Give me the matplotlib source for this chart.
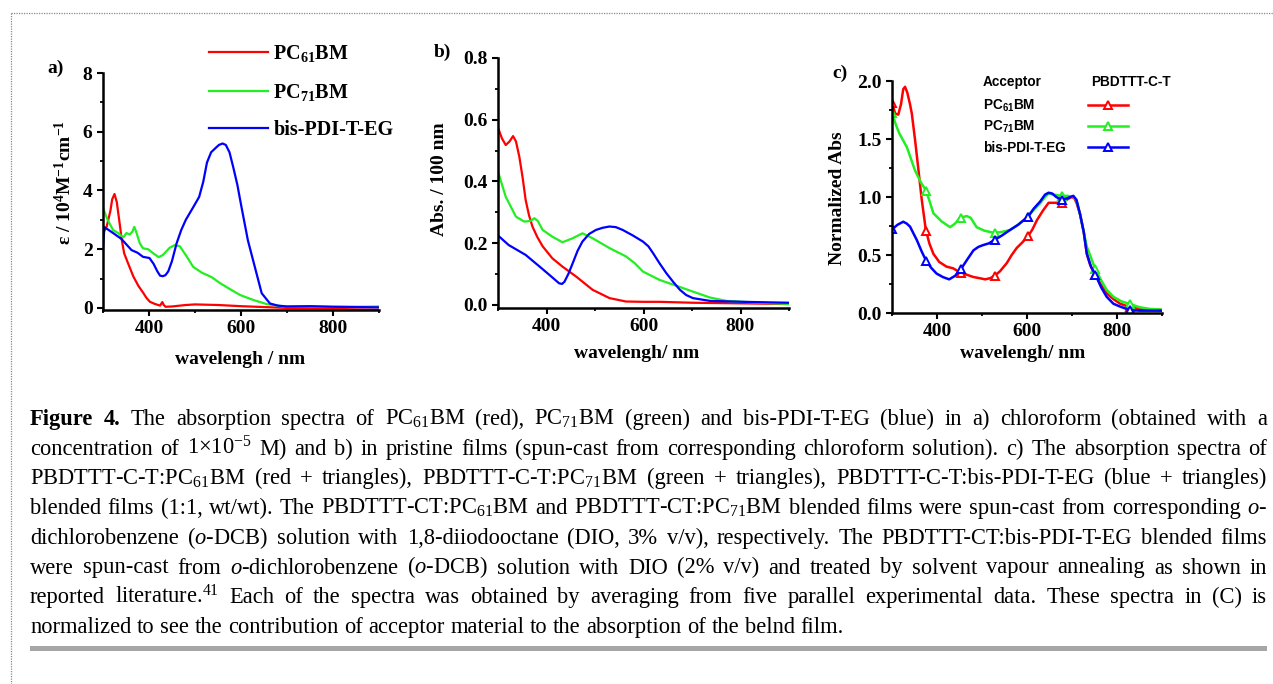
import numpy as np
import matplotlib
matplotlib.use("Agg")
import matplotlib.pyplot as plt
from matplotlib.ticker import MultipleLocator, FormatStrFormatter
from matplotlib.lines import Line2D
from matplotlib.patches import Rectangle

plt.rcParams['font.family'] = ['Liberation Serif', 'DejaVu Serif']
plt.rcParams['mathtext.fontset'] = 'custom'
plt.rcParams['mathtext.rm'] = 'Liberation Serif'
plt.rcParams['mathtext.it'] = 'Liberation Serif:italic'
plt.rcParams['mathtext.bf'] = 'Liberation Serif:bold'
plt.rcParams['mathtext.sf'] = 'Liberation Sans:bold'

# ---------------- data ----------------
series_names = ["PC$_{\\mathbf{61}}$BM", "PC$_{\\mathbf{71}}$BM", "bis-PDI-T-EG"]
series_names_c = ["PC$_{\\mathsf{61}}$BM", "PC$_{\\mathsf{71}}$BM", "bis-PDI-T-EG"]
colors = ["#ff0000", "#22ee22", "#0000ff"]

# a) chloroform solution, epsilon / 1e4 M^-1 cm^-1
a_pc61_nm = [300, 308, 316, 320, 325, 330, 336, 341, 346, 355, 366, 377, 388, 395, 402, 412, 424, 429,
             432, 436, 450, 480, 500, 550, 600, 650, 700, 750, 800, 850, 900]
a_pc61_eps = [2.55, 2.77, 3.3, 3.7, 3.88, 3.6, 2.9, 2.3, 1.86, 1.5, 1.07, 0.75, 0.5, 0.33, 0.21, 0.14, 0.08,
              0.2, 0.1, 0.04, 0.05, 0.1, 0.12, 0.1, 0.06, 0.03, 0.0, -0.01, -0.03, -0.05, -0.06]
a_pc71_nm = [300, 310, 322, 333, 344, 351, 358, 364, 368, 372, 380, 387, 398, 410, 421, 430, 445, 456,
             467, 480, 496, 515, 536, 554, 575, 598, 627, 656, 692, 750, 800, 850, 900]
a_pc71_eps = [3.4, 3.0, 2.65, 2.55, 2.4, 2.55, 2.5, 2.6, 2.76, 2.6, 2.2, 2.03, 2.0, 1.85, 1.73, 1.8, 2.05,
              2.14, 2.1, 1.8, 1.4, 1.2, 1.05, 0.85, 0.65, 0.44, 0.27, 0.13, 0.05, 0.05, 0.04, 0.04, 0.05]
a_pdi_nm = [300, 303, 308, 322, 340, 362, 375, 387, 401, 410, 418, 424, 430, 436, 442, 450, 460, 470, 480,
            495, 509, 518, 526, 535, 545, 552, 560, 567, 575, 583, 592, 601, 615, 630, 645, 663, 680, 700,
            750, 800, 850, 900]
a_pdi_eps = [2.0, 2.75, 2.7, 2.55, 2.35, 1.97, 1.88, 1.74, 1.7, 1.5, 1.25, 1.1, 1.08, 1.12, 1.25, 1.6, 2.2,
             2.65, 3.0, 3.4, 3.78, 4.3, 4.95, 5.3, 5.45, 5.55, 5.6, 5.55, 5.3, 4.8, 4.2, 3.44, 2.3, 1.4,
             0.5, 0.15, 0.08, 0.05, 0.06, 0.04, 0.03, 0.02]

# b) pristine films, Abs / 100 nm
b_pc61_nm = [300, 308, 316, 324, 331, 337, 344, 351, 357, 364, 371, 381, 392, 412, 433, 461, 495, 530,
             564, 600, 633, 702, 800, 900]
b_pc61_abs = [0.574, 0.54, 0.518, 0.53, 0.547, 0.53, 0.48, 0.41, 0.34, 0.29, 0.254, 0.22, 0.19, 0.151,
              0.124, 0.092, 0.049, 0.022, 0.011, 0.01, 0.01, 0.007, 0.005, 0.003]
b_pc71_nm = [300, 316, 337, 354, 367, 375, 382, 392, 412, 433, 454, 474, 495, 530, 564, 582, 599, 633,
             668, 702, 737, 771, 840, 900]
b_pc71_abs = [0.432, 0.35, 0.286, 0.27, 0.272, 0.281, 0.272, 0.243, 0.221, 0.203, 0.216, 0.232, 0.216,
              0.184, 0.157, 0.135, 0.108, 0.081, 0.062, 0.043, 0.024, 0.013, 0.007, 0.003]
b_pdi_nm = [300, 322, 357, 392, 415, 426, 432, 437, 445, 454, 464, 474, 488, 502, 516, 530, 543, 557, 578,
            599, 610, 620, 633, 647, 661, 675, 688, 702, 737, 806, 900]
b_pdi_abs = [0.225, 0.194, 0.162, 0.116, 0.085, 0.07, 0.068, 0.075, 0.1, 0.135, 0.175, 0.205, 0.23,
             0.243, 0.25, 0.254, 0.252, 0.243, 0.225, 0.205, 0.19, 0.167, 0.135, 0.103, 0.075, 0.049,
             0.032, 0.022, 0.013, 0.01, 0.007]

# c) blended films with PBDTTT-C-T, normalized
c_pc61_nm = [300, 307, 314, 320, 325, 329, 334, 340, 344, 351, 358, 366, 375, 383, 392, 405, 421, 436,
             451, 466, 481, 495, 507, 518, 528, 540, 555, 566, 577, 590, 602, 612, 622, 635, 648, 660,
             677, 690, 699, 705, 710, 718, 726, 733, 740, 747, 755, 765, 777, 792, 807, 829, 850, 873, 900]
c_pc61_abs = [1.81, 1.72, 1.71, 1.8, 1.93, 1.95, 1.9, 1.8, 1.72, 1.5, 1.26, 0.98, 0.72, 0.6, 0.51, 0.44,
              0.40, 0.385, 0.35, 0.33, 0.31, 0.30, 0.29, 0.3, 0.32, 0.36, 0.43, 0.5, 0.56, 0.61, 0.66,
              0.72, 0.8, 0.88, 0.95, 0.95, 0.95, 0.98, 1.0, 0.99, 0.95, 0.85, 0.7, 0.51, 0.42, 0.36, 0.31,
              0.24, 0.17, 0.12, 0.08, 0.05, 0.035, 0.03, 0.025]
c_pc71_nm = [300, 308, 316, 333, 351, 365, 375, 383, 392, 410, 429, 440, 451, 466, 475, 488, 505, 528,
             545, 562, 580, 602, 615, 629, 640, 648, 660, 677, 690, 703, 710, 718, 726, 733, 742, 751,
             765, 777, 792, 810, 829, 850, 873, 900]
c_pc71_abs = [1.72, 1.63, 1.55, 1.43, 1.23, 1.12, 1.06, 0.97, 0.86, 0.79, 0.74, 0.77, 0.82, 0.836, 0.82,
              0.74, 0.71, 0.69, 0.7, 0.715, 0.76, 0.83, 0.89, 0.945, 1.0, 1.03, 1.02, 1.01, 1.01, 1.0,
              0.97, 0.85, 0.7, 0.57, 0.48, 0.385, 0.28, 0.2, 0.14, 0.1, 0.077, 0.05, 0.035, 0.03]
c_pdi_nm = [300, 312, 325, 333, 340, 355, 366, 375, 387, 399, 413, 427, 440, 453, 467, 481, 492, 503, 515,
            528, 545, 562, 580, 602, 615, 629, 640, 648, 656, 665, 677, 690, 703, 710, 718, 726, 733, 742,
            752, 765, 777, 792, 807, 829, 850, 873, 900]
c_pdi_abs = [0.72, 0.76, 0.787, 0.77, 0.745, 0.63, 0.53, 0.457, 0.39, 0.34, 0.31, 0.29, 0.32, 0.377,
             0.46, 0.54, 0.57, 0.586, 0.6, 0.63, 0.67, 0.715, 0.76, 0.83, 0.9, 0.96, 1.02, 1.037, 1.03,
             1.0, 0.975, 0.99, 1.01, 0.975, 0.85, 0.7, 0.51, 0.4, 0.33, 0.22, 0.14, 0.08, 0.055, 0.025,
             0.02, 0.02, 0.02]
c_marker_nm = [300, 376, 453, 528, 602, 677, 752, 829]

caption_lines = [
    "Figure 4. The absorption spectra of PC$_{61}$BM (red), PC$_{71}$BM (green) and bis-PDI-T-EG (blue) in a) chloroform (obtained with a",
    "concentration of 1\u00d710$^{-5}$ M) and b) in pristine films (spun-cast from corresponding chloroform solution). c) The absorption spectra of",
    "PBDTTT-C-T:PC$_{61}$BM (red + triangles), PBDTTT-C-T:PC$_{71}$BM (green + triangles), PBDTTT-C-T:bis-PDI-T-EG (blue + triangles)",
    "blended films (1:1, wt/wt). The PBDTTT-CT:PC$_{61}$BM and PBDTTT-CT:PC$_{71}$BM blended films were spun-cast from corresponding $\\mathit{o}$-",
    "dichlorobenzene ($\\mathit{o}$-DCB) solution with 1,8-diiodooctane (DIO, 3% v/v), respectively. The PBDTTT-CT:bis-PDI-T-EG blended films",
    "were spun-cast from $\\mathit{o}$-dichlorobenzene ($\\mathit{o}$-DCB) solution with DIO (2% v/v) and treated by solvent vapour annealing as shown in",
    "reported literature.$^{41}$ Each of the spectra was obtained by averaging from five parallel experimental data. These spectra in (C) is",
    "normalized to see the contribution of acceptor material to the absorption of the belnd film.",
]

# ---------------- layout helpers ----------------
W, H = 1273, 684
fig = plt.figure(figsize=(W / 100, H / 100), dpi=100)


def fx(x):
    return x / W


def fy(y):
    return 1 - y / H


def add_ax(left, right, top, bottom):
    return fig.add_axes([fx(left), fy(bottom), (right - left) / W, (bottom - top) / H])


def style_ax(ax, ymaj, ymin, fmt):
    for s in ['top', 'right']:
        ax.spines[s].set_visible(False)
    for s in ['left', 'bottom']:
        ax.spines[s].set_linewidth(1.8)
    ax.set_xlim(300, 900)
    ax.xaxis.set_major_locator(MultipleLocator(200))
    ax.xaxis.set_minor_locator(MultipleLocator(100))
    ax.yaxis.set_major_locator(MultipleLocator(ymaj))
    ax.yaxis.set_minor_locator(MultipleLocator(ymin))
    ax.yaxis.set_major_formatter(FormatStrFormatter(fmt))
    ax.tick_params(which='major', direction='out', length=4.5, width=1.5, labelsize=14, pad=3)
    ax.tick_params(which='minor', direction='out', length=2.5, width=1.3)
    for lab in ax.get_xticklabels() + ax.get_yticklabels():
        lab.set_fontweight('bold')
    ax.patch.set_alpha(0)


def place_labels(ax, xlabel, xlab_xy, ylabel, ylab_xy):
    ax.set_xlabel(xlabel, fontsize=14, fontweight='bold')
    ax.set_ylabel(ylabel, fontsize=14, fontweight='bold')
    ax.xaxis.label.set_verticalalignment('center')
    ax.yaxis.label.set_verticalalignment('center')
    ax.xaxis.set_label_coords(fx(xlab_xy[0]), fy(xlab_xy[1]), transform=fig.transFigure)
    ax.yaxis.set_label_coords(fx(ylab_xy[0]), fy(ylab_xy[1]), transform=fig.transFigure)


# ---------------- panel a ----------------
axa = add_ax(103, 379, 73, 310)
lines_a = []
for nm, val, c, name in zip([a_pc61_nm, a_pc71_nm, a_pdi_nm], [a_pc61_eps, a_pc71_eps, a_pdi_eps],
                            colors, series_names):
    ln, = axa.plot(nm, val, color=c, lw=1.6, label=name)
    lines_a.append(ln)
axa.set_ylim(-0.07, 8)
style_ax(axa, 2, 1, '%d')
place_labels(axa, "wavelengh / nm", (240, 360),
             "\u03b5 / 10$^{\\mathbf{4}}$M$^{\\mathbf{-1}}$cm$^{\\mathbf{-1}}$", (65, 182))
leg = axa.legend(handles=lines_a, loc='upper left', bbox_to_anchor=(fx(209), fy(43)),
                 bbox_transform=fig.transFigure, frameon=False, fontsize=14.5,
                 handlelength=2.95, handletextpad=0.25, labelspacing=0.88, borderpad=0, borderaxespad=0)
for t in leg.get_texts():
    t.set_fontweight('bold')
fig.text(fx(56), fy(68), "a)", fontsize=14, fontweight='bold', ha='center', va='center')

# ---------------- panel b ----------------
axb = add_ax(498, 789, 58, 308)
for nm, val, c in zip([b_pc61_nm, b_pc71_nm, b_pdi_nm], [b_pc61_abs, b_pc71_abs, b_pdi_abs], colors):
    axb.plot(nm, val, color=c, lw=1.6)
axb.set_ylim(-0.01, 0.8)
style_ax(axb, 0.2, 0.1, '%.1f')
place_labels(axb, "wavelengh/ nm", (637, 353), "Abs. / 100 nm", (440, 179))
fig.text(fx(442), fy(52), "b)", fontsize=14, fontweight='bold', ha='center', va='center')

# ---------------- panel c ----------------
axc = add_ax(892, 1162, 81, 313)
for nm, val, c in zip([c_pc61_nm, c_pc71_nm, c_pdi_nm], [c_pc61_abs, c_pc71_abs, c_pdi_abs], colors):
    axc.plot(nm, val, color=c, lw=1.8)
    axc.plot(c_marker_nm, np.interp(c_marker_nm, nm, val), ls='none', marker='^', ms=6,
             mfc='white', mec=c, mew=1.4)
axc.set_ylim(0, 2.0)
style_ax(axc, 0.5, 0.25, '%.1f')
place_labels(axc, "wavelengh/ nm", (1023, 353), "Normalized Abs", (837, 198))
fig.text(fx(840), fy(73), "c)", fontsize=14, fontweight='bold', ha='center', va='center')

sans = dict(family='Liberation Sans', fontweight='bold', fontsize=9.8)
fig.text(fx(983), fy(86), "Acceptor", ha='left', va='baseline', **sans)
fig.text(fx(1091), fy(86), "PBDTTT-C-T", ha='left', va='baseline', **sans)
for i, (name, c) in enumerate(zip(series_names_c, colors)):
    yl = 104.5 + 21 * i
    fig.text(fx(983), fy(yl + 5), name, ha='left', va='baseline', **sans)
    fig.add_artist(Line2D([fx(1088), fx(1128)], [fy(yl), fy(yl)], color=c, lw=1.8))
    fig.add_artist(Line2D([fx(1108)], [fy(yl)], color=c, marker='^', ms=6, mfc='white', mec=c, mew=1.4))

# ---------------- caption (justified) ----------------
renderer = fig.canvas.get_renderer()
x0, x1 = 30, 1267
# size the caption font so that the (unjustified) last line ends where the reference's does
probe = fig.text(0, 0, caption_lines[-1], fontsize=10)
cap_size = 10 * (843 - x0) / probe.get_window_extent(renderer).width
probe.remove()
for i, line in enumerate(caption_lines):
    words = line.split(' ')
    ybase = 425 + 29.7 * i
    texts = []
    for j, w in enumerate(words):
        bold = (i == 0 and j < 2)
        t = fig.text(0, fy(ybase), w, fontsize=cap_size, fontweight='bold' if bold else 'normal',
                     ha='left', va='baseline')
        texts.append(t)
    widths = [t.get_window_extent(renderer).width for t in texts]
    if i < len(caption_lines) - 1:
        gap = (x1 - x0 - sum(widths)) / (len(words) - 1)
    else:
        sp = fig.text(0, 0, "a a", fontsize=cap_size)
        sp2 = fig.text(0, 0, "aa", fontsize=cap_size)
        gap = sp.get_window_extent(renderer).width - sp2.get_window_extent(renderer).width
        sp.remove()
        sp2.remove()
    x = x0
    for t, w in zip(texts, widths):
        t.set_x(fx(x))
        x += w + gap

# rule under caption
fig.add_artist(Rectangle((fx(30), fy(651)), (1267 - 30) / W, 5 / H, transform=fig.transFigure,
                         facecolor='#a6a6a6', edgecolor='none'))
# dotted frame
fig.add_artist(Line2D([fx(11), fx(11)], [fy(13), 0], color='#8a8a8a', lw=0.9, ls=(0, (1, 1))))
fig.add_artist(Line2D([fx(11), 1], [fy(13), fy(13)], color='#8a8a8a', lw=0.9, ls=(0, (1, 1))))

fig.savefig("out.png", dpi=100)
